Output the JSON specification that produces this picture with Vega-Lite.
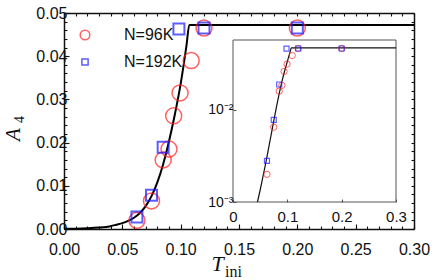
{
  "$schema": "https://vega.github.io/schema/vega-lite/v6.json",
  "width": 350,
  "height": 216,
  "autosize": {"type": "none"},
  "padding": {"left": 64, "top": 13, "right": 22, "bottom": 51},
  "background": "white",
  "datasets": {
    "curve": [
      {"T": 0, "A": 0.00004},
      {"T": 0.01, "A": 0.00008},
      {"T": 0.02, "A": 0.00016},
      {"T": 0.03, "A": 0.00032},
      {"T": 0.04, "A": 0.00066},
      {"T": 0.045, "A": 0.001},
      {"T": 0.05, "A": 0.00135},
      {"T": 0.055, "A": 0.00188},
      {"T": 0.06, "A": 0.0026},
      {"T": 0.065, "A": 0.0037},
      {"T": 0.07, "A": 0.0053},
      {"T": 0.075, "A": 0.0076},
      {"T": 0.08, "A": 0.0108},
      {"T": 0.085, "A": 0.015},
      {"T": 0.09, "A": 0.0203},
      {"T": 0.095, "A": 0.0265},
      {"T": 0.1, "A": 0.0336},
      {"T": 0.105, "A": 0.0425},
      {"T": 0.1074, "A": 0.0472},
      {"T": 0.3, "A": 0.0472}
    ],
    "pts": [
      {"N": "N=96K", "T": 0.0625, "A": 0.002},
      {"N": "N=96K", "T": 0.075, "A": 0.0065},
      {"N": "N=96K", "T": 0.085, "A": 0.016},
      {"N": "N=96K", "T": 0.09, "A": 0.0185},
      {"N": "N=96K", "T": 0.094, "A": 0.0262},
      {"N": "N=96K", "T": 0.0995, "A": 0.0315},
      {"N": "N=96K", "T": 0.109, "A": 0.039},
      {"N": "N=96K", "T": 0.12, "A": 0.0465},
      {"N": "N=96K", "T": 0.2, "A": 0.0465},
      {"N": "N=192K", "T": 0.0625, "A": 0.0028},
      {"N": "N=192K", "T": 0.075, "A": 0.0078},
      {"N": "N=192K", "T": 0.085, "A": 0.0189},
      {"N": "N=192K", "T": 0.0985, "A": 0.0463},
      {"N": "N=192K", "T": 0.12, "A": 0.0465},
      {"N": "N=192K", "T": 0.2, "A": 0.0465}
    ]
  },
  "config": {
    "view": {"stroke": null},
    "axis": {
      "grid": false,
      "domainColor": "#111",
      "domainWidth": 1.5,
      "tickColor": "#111",
      "tickWidth": 1.1,
      "labelFont": "Liberation Sans",
      "labelColor": "#111",
      "labelFlush": false,
      "labelOverlap": false,
      "labelBound": false,
      "titleColor": "#111",
      "titleFont": "Liberation Serif",
      "titleFontWeight": "normal"
    }
  },
  "layer": [
    {
      "layer": [
        {
          "data": {"name": "curve"},
          "mark": {"type": "line", "color": "#000", "strokeWidth": 2, "interpolate": "monotone"},
          "encoding": {
            "x": {
              "field": "T", "type": "quantitative",
              "scale": {"domain": [0, 0.3], "nice": false, "zero": false},
              "axis": {"orient": "bottom", "values": [0, 0.05, 0.1, 0.15, 0.2, 0.25, 0.3], "format": ".2f", "tickSize": -5, "labelPadding": 17, "labelFontSize": 16, "title": "T", "titleFontSize": 22, "titleFontStyle": "italic", "titleX": 153, "titleY": 41, "titleAlign": "center", "titleBaseline": "alphabetic"}
            },
            "y": {
              "field": "A", "type": "quantitative",
              "scale": {"domain": [0, 0.05], "nice": false, "zero": false},
              "axis": {"orient": "left", "values": [0, 0.01, 0.02, 0.03, 0.04, 0.05], "format": ".2f", "tickSize": -5, "labelPadding": 2, "labelFontSize": 16, "title": "A", "titleFontSize": 21, "titleFontStyle": "italic", "titleAngle": 270, "titleX": -45, "titleY": 121, "titleAlign": "center", "titleBaseline": "alphabetic"}
            }
          }
        },
        {
          "data": {"name": "pts"},
          "transform": [{"filter": "datum.N == 'N=96K'"}],
          "mark": {"type": "point", "filled": false, "size": 256, "strokeWidth": 1.5},
          "encoding": {
            "x": {
              "field": "T", "type": "quantitative",
              "axis": {"orient": "top", "values": [0, 0.01, 0.02, 0.03, 0.04, 0.05, 0.06, 0.07, 0.08, 0.09, 0.1, 0.11, 0.12, 0.13, 0.14, 0.15, 0.16, 0.17, 0.18, 0.19, 0.2, 0.21, 0.22, 0.23, 0.24, 0.25, 0.26, 0.27, 0.28, 0.29, 0.3], "labels": false, "tickSize": -3, "title": null}
            },
            "y": {
              "field": "A", "type": "quantitative",
              "axis": {"orient": "right", "values": [0, 0.002, 0.004, 0.006, 0.008, 0.01, 0.012, 0.014, 0.016, 0.018, 0.02, 0.022, 0.024, 0.026, 0.028, 0.03, 0.032, 0.034, 0.036, 0.038, 0.04, 0.042, 0.044, 0.046, 0.048, 0.05], "labels": false, "tickSize": -3, "title": null}
            },
            "color": {
              "field": "N", "type": "nominal",
              "scale": {"domain": ["N=96K", "N=192K"], "range": ["#ff1f1f", "#1a1aff"]},
              "legend": {"title": null, "orient": "none", "legendX": 13, "legendY": 14, "symbolSize": 92, "symbolStrokeWidth": 1.5, "labelFont": "Liberation Sans", "labelFontSize": 16, "labelColor": "#111", "labelOffset": 31, "rowPadding": 11, "padding": 0}
            },
            "shape": {
              "field": "N", "type": "nominal",
              "scale": {"domain": ["N=96K", "N=192K"], "range": ["M1,0A1,1,0,1,1,-1,0A1,1,0,1,1,1,0Z", "M-0.65,-0.65H0.65V0.65H-0.65Z"]}
            }
          }
        },
        {
          "data": {"name": "pts"},
          "transform": [{"filter": "datum.N == 'N=192K'"}],
          "mark": {"type": "point", "filled": false, "size": 286, "strokeWidth": 2},
          "encoding": {
            "x": {
              "field": "T", "type": "quantitative",
              "axis": {"orient": "bottom", "values": [0, 0.01, 0.02, 0.03, 0.04, 0.05, 0.06, 0.07, 0.08, 0.09, 0.1, 0.11, 0.12, 0.13, 0.14, 0.15, 0.16, 0.17, 0.18, 0.19, 0.2, 0.21, 0.22, 0.23, 0.24, 0.25, 0.26, 0.27, 0.28, 0.29, 0.3], "labels": false, "domain": false, "tickSize": -3, "title": "ini", "titleFontSize": 16, "titleFontStyle": "normal", "titleX": 169, "titleY": 47, "titleAlign": "center", "titleBaseline": "alphabetic"}
            },
            "y": {
              "field": "A", "type": "quantitative",
              "axis": {"orient": "left", "values": [0, 0.002, 0.004, 0.006, 0.008, 0.01, 0.012, 0.014, 0.016, 0.018, 0.02, 0.022, 0.024, 0.026, 0.028, 0.03, 0.032, 0.034, 0.036, 0.038, 0.04, 0.042, 0.044, 0.046, 0.048, 0.05], "labels": false, "domain": false, "tickSize": -3, "title": "4", "titleFontSize": 14, "titleFontStyle": "normal", "titleAngle": 270, "titleX": -41, "titleY": 106, "titleAlign": "center", "titleBaseline": "alphabetic"}
            },
            "color": {
              "field": "N", "type": "nominal",
              "scale": {"domain": ["N=96K", "N=192K"], "range": ["#ff1f1f", "#1a1aff"]},
              "legend": {"title": null, "orient": "none", "legendX": 13, "legendY": 14, "symbolSize": 92, "symbolStrokeWidth": 1.5, "labelFont": "Liberation Sans", "labelFontSize": 16, "labelColor": "#111", "labelOffset": 31, "rowPadding": 11, "padding": 0}
            },
            "shape": {
              "field": "N", "type": "nominal",
              "scale": {"domain": ["N=96K", "N=192K"], "range": ["M1,0A1,1,0,1,1,-1,0A1,1,0,1,1,1,0Z", "M-0.65,-0.65H0.65V0.65H-0.65Z"]}
            }
          }
        }
      ],
      "resolve": {"axis": {"x": "independent", "y": "independent"}}
    },
    {
      "layer": [
        {
          "data": {"values": [{}]},
          "mark": {"type": "rect", "fill": "white", "stroke": "#555", "strokeWidth": 1},
          "encoding": {
            "x": {"datum": 0, "type": "quantitative"},
            "x2": {"datum": 0.3},
            "y": {"datum": 0.001, "type": "quantitative"},
            "y2": {"datum": 0.0575}
          }
        },
        {
          "data": {"name": "curve"},
          "transform": [{"filter": "datum.A >= 0.001"}],
          "mark": {"type": "line", "color": "#111", "strokeWidth": 1.2, "interpolate": "monotone"},
          "encoding": {
            "x": {
              "field": "T", "type": "quantitative",
              "scale": {"domain": [0, 0.3], "range": [169, 332], "nice": false, "zero": false},
              "axis": {"orient": "bottom", "offset": -27, "values": [0, 0.1, 0.2, 0.3], "labelExpr": "datum.value == 0 ? '0' : format(datum.value, '.1f')", "domain": false, "tickSize": -3, "tickColor": "#555", "labelPadding": 10, "labelFontSize": 15, "title": null, "zindex": 1}
            },
            "y": {
              "field": "A", "type": "quantitative",
              "scale": {"type": "log", "domain": [0.001, 0.0575], "range": [189, 27], "nice": false, "zero": false},
              "axis": {"orient": "left", "offset": -169, "values": [0.001, 0.01], "labelExpr": "datum.value < 0.005 ? '10⁻³' : '10⁻²'", "domain": false, "tickSize": -3, "tickColor": "#555", "labelPadding": 3, "labelFontSize": 14, "labelBaseline": "middle", "title": null, "zindex": 1}
            }
          }
        },
        {
          "data": {"name": "pts"},
          "transform": [{"filter": "datum.N == 'N=96K'"}],
          "mark": {"type": "point", "shape": "circle", "filled": false, "size": 40, "color": "#ff1f1f", "strokeWidth": 1},
          "encoding": {
            "x": {"field": "T", "type": "quantitative"},
            "y": {"field": "A", "type": "quantitative"}
          }
        },
        {
          "data": {"name": "pts"},
          "transform": [{"filter": "datum.N == 'N=192K'"}],
          "mark": {"type": "point", "shape": "square", "filled": false, "size": 25, "color": "#1a1aff", "strokeWidth": 1.2},
          "encoding": {
            "x": {"field": "T", "type": "quantitative"},
            "y": {"field": "A", "type": "quantitative"}
          }
        }
      ]
    }
  ],
  "resolve": {"scale": {"x": "independent", "y": "independent"}}
}
